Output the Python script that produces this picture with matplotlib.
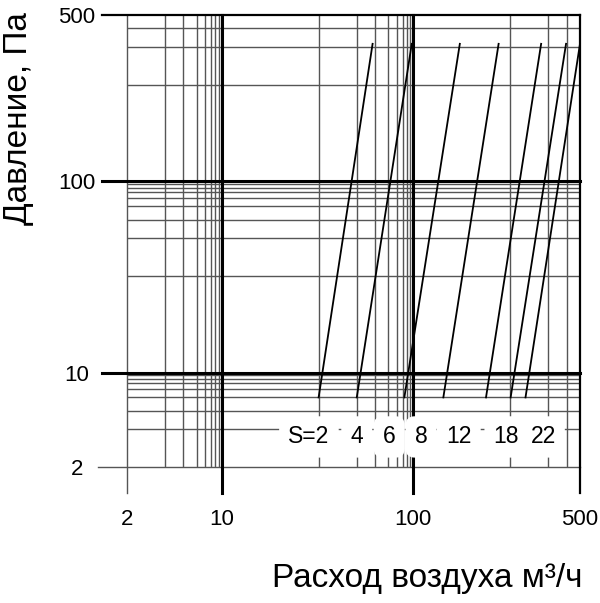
import numpy as np
import matplotlib
matplotlib.use("Agg")
import matplotlib.pyplot as plt

plt.rcParams['font.family'] = ['Liberation Sans', 'DejaVu Sans']

# axis ticks
x_ticks = [2, 10, 100, 500]
y_ticks = [2, 10, 100, 500]
x_minor = [3, 4, 5, 6, 7, 8, 9, 20, 30, 40, 50, 60, 70, 80, 90, 200, 300, 400]
y_minor = [3, 4, 5, 6, 7, 8, 9, 20, 30, 40, 50, 60, 70, 80, 90, 200, 300, 400]

# characteristic lines (flow m3/h at low / high pressure)
s_labels = ['S=2', '4', '6', '8', '12', '18', '22']
flow_low = [20, 30, 74, 131, 175, 201, 240]
flow_high = [38.7, 94.7, 148, 188, 281, 397, 500]
p_low = [5, 5, 5, 5, 5, 5, 5]
p_high = [315, 315, 315, 315, 315, 315, 315]
label_flow = [19, 30, 51, 108, 147, 196, 286]
label_p = 2.79

# the printed chart uses a stretched grid inside each decade
MANT = np.array([1, 2, 3, 4, 5, 6, 7, 8, 9, 10], dtype=float)
FRAC = np.array([0, 0.506, 0.705, 0.80, 0.87, 0.914, 0.945, 0.966, 0.985, 1.0])


def forward(v):
    v = np.asarray(v, dtype=float)
    t = np.log10(np.clip(v, 1e-12, None))
    d = np.floor(t + 1e-12)
    m = 10 ** (t - d)
    return d + np.interp(m, MANT, FRAC)


def inverse(u):
    u = np.asarray(u, dtype=float)
    d = np.floor(u + 1e-12)
    return np.interp(u - d, FRAC, MANT) * 10 ** d


fig = plt.figure(figsize=(6, 6.03), dpi=100)
ax = fig.add_axes([127 / 600, 136 / 603, 453 / 600, 452 / 603])
ax.set_xscale('function', functions=(forward, inverse))
ax.set_yscale('function', functions=(forward, inverse))
ax.set_xlim(2, 500)
ax.set_ylim(2, 500)
for sp in ax.spines.values():
    sp.set_visible(False)

grey = '#555555'
# minor grid
for v in x_minor:
    ax.axvline(v, color=grey, lw=1.0, zorder=1)
for v in y_minor:
    ax.axhline(v, color=grey, lw=1.0, zorder=1)

# major grid with outside extension (acts as tick)
ext_x = 26 / 452
ext_y = 25 / 453
for v in x_ticks:
    if v == 2:
        ax.axvline(v, ymin=-ext_x, ymax=1, color=grey, lw=1.0, zorder=1, clip_on=False)
    elif v == 500:
        ax.axvline(v, ymin=-ext_x, ymax=1, color='black', lw=1.6, zorder=2, clip_on=False)
    else:
        ax.axvline(v, ymin=-ext_x, ymax=1, color='black', lw=2.2, zorder=2, clip_on=False)
for v in y_ticks:
    if v == 2:
        ax.axhline(v, xmin=-ext_y - 4 / 453, xmax=1, color=grey, lw=1.0, zorder=1, clip_on=False)
    elif v == 500:
        ax.axhline(v, xmin=-ext_y, xmax=1, color='black', lw=1.6, zorder=2, clip_on=False)
    else:
        ax.axhline(v, xmin=-ext_y, xmax=1, color='black', lw=2.2, zorder=2, clip_on=False)

# S lines
for lo, hi, pl, ph in zip(flow_low, flow_high, p_low, p_high):
    ax.plot([lo, hi], [pl, ph], color='black', lw=1.3, zorder=3, clip_on=False)

for txt, xf in zip(s_labels, label_flow):
    ax.text(xf, label_p, txt, ha='center', va='center', fontsize=16.5, zorder=4,
            bbox=dict(boxstyle='round,pad=0.4', fc='white', ec='none'))

ax.set_xticks(x_ticks, labels=[str(v) for v in x_ticks])
ax.set_yticks(y_ticks, labels=[str(v) for v in y_ticks])
ax.xaxis.set_minor_locator(matplotlib.ticker.NullLocator())
ax.yaxis.set_minor_locator(matplotlib.ticker.NullLocator())
ax.tick_params(axis='both', length=0, labelsize=16)
ax.tick_params(axis='x', pad=30)
ax.tick_params(axis='y', pad=36)
plt.setp(ax.get_yticklabels(), ha='center')

fig.text(582 / 600, 1 - 587 / 603, 'Расход воздуха м³/ч', ha='right', va='baseline', fontsize=24)
fig.text(19 / 600, 1 - 119 / 603, 'Давление, Па', ha='center', va='center', rotation=90, fontsize=24)

fig.savefig('out.png', dpi=100)
